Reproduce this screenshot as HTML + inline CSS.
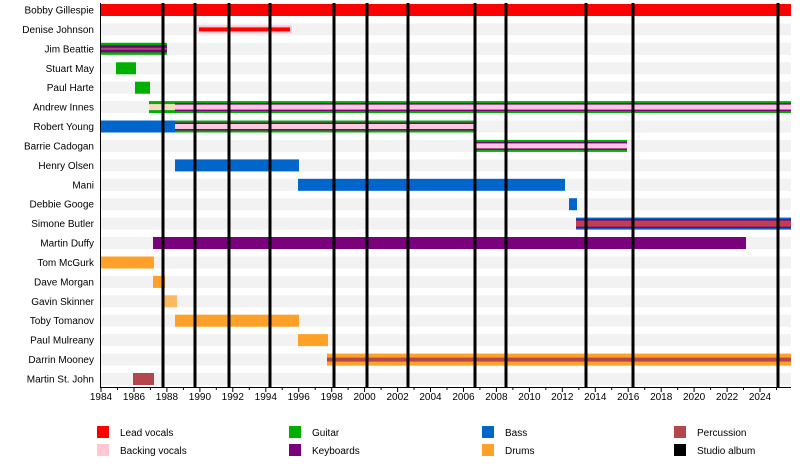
<!DOCTYPE html><html><head><style>body{margin:0;background:#fff}svg text{font-family:"Liberation Sans",sans-serif;font-size:10px;fill:#000}</style></head><body>
<svg width="800" height="464" xmlns="http://www.w3.org/2000/svg">
<g fill="#f2f2f2">
<rect x="101" y="4" width="690" height="12"/><rect x="101" y="23.4" width="690" height="12"/><rect x="101" y="42.8" width="690" height="12"/><rect x="101" y="62.3" width="690" height="12"/><rect x="101" y="81.7" width="690" height="12"/><rect x="101" y="101.1" width="690" height="12"/><rect x="101" y="120.5" width="690" height="12"/><rect x="101" y="139.9" width="690" height="12"/><rect x="101" y="159.4" width="690" height="12"/><rect x="101" y="178.8" width="690" height="12"/><rect x="101" y="198.2" width="690" height="12"/><rect x="101" y="217.6" width="690" height="12"/><rect x="101" y="237" width="690" height="12"/><rect x="101" y="256.5" width="690" height="12"/><rect x="101" y="275.9" width="690" height="12"/><rect x="101" y="295.3" width="690" height="12"/><rect x="101" y="314.7" width="690" height="12"/><rect x="101" y="334.1" width="690" height="12"/><rect x="101" y="353.6" width="690" height="12"/><rect x="101" y="373" width="690" height="12"/>
</g>
<g text-anchor="end">
<text x="94" y="13.5">Bobby Gillespie</text><text x="94" y="32.9">Denise Johnson</text><text x="94" y="52.3">Jim Beattie</text><text x="94" y="71.8">Stuart May</text><text x="94" y="91.2">Paul Harte</text><text x="94" y="110.6">Andrew Innes</text><text x="94" y="130">Robert Young</text><text x="94" y="149.4">Barrie Cadogan</text><text x="94" y="168.9">Henry Olsen</text><text x="94" y="188.3">Mani</text><text x="94" y="207.7">Debbie Googe</text><text x="94" y="227.1">Simone Butler</text><text x="94" y="246.5">Martin Duffy</text><text x="94" y="266">Tom McGurk</text><text x="94" y="285.4">Dave Morgan</text><text x="94" y="304.8">Gavin Skinner</text><text x="94" y="324.2">Toby Tomanov</text><text x="94" y="343.6">Paul Mulreany</text><text x="94" y="363.1">Darrin Mooney</text><text x="94" y="382.5">Martin St. John</text>
</g>
<rect x="101" y="4" width="690" height="12" fill="#ff0000"/>
<rect x="197" y="25.4" width="95" height="8" fill="#ffc8d2"/><rect x="199" y="27.4" width="91" height="4" fill="#ff0000"/>
<rect x="101" y="42.8" width="66" height="12" fill="#00b000"/><rect x="101" y="45.3" width="66" height="7" fill="#7b007b"/><rect x="101" y="47.8" width="66" height="2" fill="#a05070"/>
<rect x="116" y="62.3" width="20" height="12" fill="#00b000"/>
<rect x="135" y="81.7" width="15" height="12" fill="#00b000"/>
<rect x="149" y="101.1" width="642" height="12" fill="#00b000"/><rect x="149" y="104.1" width="26" height="6" fill="#fcd9c4"/>
<rect x="175" y="103.1" width="616" height="8" fill="#7b007b"/><rect x="175" y="104.6" width="616" height="5" fill="#ffc8e0"/>
<rect x="101" y="120.5" width="74" height="12" fill="#0066cc"/><rect x="175" y="120.5" width="301" height="12" fill="#00b000"/><rect x="175" y="122.5" width="301" height="8" fill="#7b007b"/><rect x="175" y="124" width="301" height="5" fill="#ffc8e0"/>
<rect x="475" y="139.9" width="152" height="12" fill="#00b000"/><rect x="475" y="141.9" width="152" height="8" fill="#7b007b"/><rect x="475" y="143.4" width="152" height="5" fill="#ffc8e0"/>
<rect x="175" y="159.4" width="124" height="12" fill="#0066cc"/>
<rect x="298" y="178.8" width="267" height="12" fill="#0066cc"/>
<rect x="569" y="198.2" width="8" height="12" fill="#0066cc"/>
<rect x="576" y="217.6" width="215" height="12" fill="#0066cc"/><rect x="576" y="219.1" width="215" height="9" fill="#7b007b"/><rect x="576" y="220.6" width="215" height="6" fill="#c0404f"/>
<rect x="153" y="237" width="593" height="12" fill="#7b007b"/>
<rect x="101" y="256.5" width="53" height="12" fill="#ffa128"/>
<rect x="153" y="275.9" width="12" height="12" fill="#ffa128"/>
<rect x="164" y="295.3" width="13" height="12" fill="#ffa128" opacity="0.7"/>
<rect x="175" y="314.7" width="124" height="12" fill="#ffa128"/>
<rect x="298" y="334.1" width="30" height="12" fill="#ffa128"/>
<rect x="327" y="353.6" width="464" height="12" fill="#ffa128"/><rect x="327" y="357.6" width="464" height="4" fill="#b4474c"/>
<rect x="133" y="373" width="21" height="12" fill="#b4474c"/>
<g fill="#000">
<rect x="161.5" y="3" width="3" height="385"/><rect x="193.5" y="3" width="3" height="385"/><rect x="227.5" y="3" width="3" height="385"/><rect x="268.5" y="3" width="3" height="385"/><rect x="332.5" y="3" width="3" height="385"/><rect x="365.5" y="3" width="3" height="385"/><rect x="406.5" y="3" width="3" height="385"/><rect x="473.5" y="3" width="3" height="385"/><rect x="504.5" y="3" width="3" height="385"/><rect x="584.5" y="3" width="3" height="385"/><rect x="631.5" y="3" width="3" height="385"/><rect x="776.5" y="3" width="3" height="385"/>
<rect x="100" y="387" width="691" height="1"/><rect x="100" y="3" width="1" height="385"/>
</g>
<path d="M101 388v4M117.5 388v2M134 388v4M150.4 388v2M166.9 388v4M183.4 388v2M199.9 388v4M216.3 388v2M232.8 388v4M249.3 388v2M265.8 388v4M282.2 388v2M298.7 388v4M315.2 388v2M331.7 388v4M348.1 388v2M364.6 388v4M381.1 388v2M397.6 388v4M414 388v2M430.5 388v4M447 388v2M463.5 388v4M479.9 388v2M496.4 388v4M512.9 388v2M529.4 388v4M545.8 388v2M562.3 388v4M578.8 388v2M595.3 388v4M611.7 388v2M628.2 388v4M644.7 388v2M661.2 388v4M677.6 388v2M694.1 388v4M710.6 388v2M727.1 388v4M743.5 388v2M760 388v4M776.5 388v2" stroke="#000" stroke-width="1"/>
<g text-anchor="middle">
<text x="101" y="400">1984</text><text x="134" y="400">1986</text><text x="166.9" y="400">1988</text><text x="199.9" y="400">1990</text><text x="232.8" y="400">1992</text><text x="265.8" y="400">1994</text><text x="298.7" y="400">1996</text><text x="331.7" y="400">1998</text><text x="364.6" y="400">2000</text><text x="397.6" y="400">2002</text><text x="430.5" y="400">2004</text><text x="463.5" y="400">2006</text><text x="496.4" y="400">2008</text><text x="529.4" y="400">2010</text><text x="562.3" y="400">2012</text><text x="595.3" y="400">2014</text><text x="628.2" y="400">2016</text><text x="661.2" y="400">2018</text><text x="694.1" y="400">2020</text><text x="727.1" y="400">2022</text><text x="760" y="400">2024</text>
</g>
<rect x="97" y="426" width="12" height="12" fill="#ff0000"/><text x="120" y="436">Lead vocals</text>
<rect x="97" y="444" width="12" height="12" fill="#ffc8d2"/><text x="120" y="454">Backing vocals</text>
<rect x="289" y="426" width="12" height="12" fill="#00b000"/><text x="312" y="436">Guitar</text>
<rect x="289" y="444" width="12" height="12" fill="#7b007b"/><text x="312" y="454">Keyboards</text>
<rect x="482" y="426" width="12" height="12" fill="#0066cc"/><text x="505" y="436">Bass</text>
<rect x="482" y="444" width="12" height="12" fill="#ffa128"/><text x="505" y="454">Drums</text>
<rect x="674" y="426" width="12" height="12" fill="#b4474c"/><text x="697" y="436">Percussion</text>
<rect x="674" y="444" width="12" height="12" fill="#000"/><text x="697" y="454">Studio album</text>
</svg></body></html>
